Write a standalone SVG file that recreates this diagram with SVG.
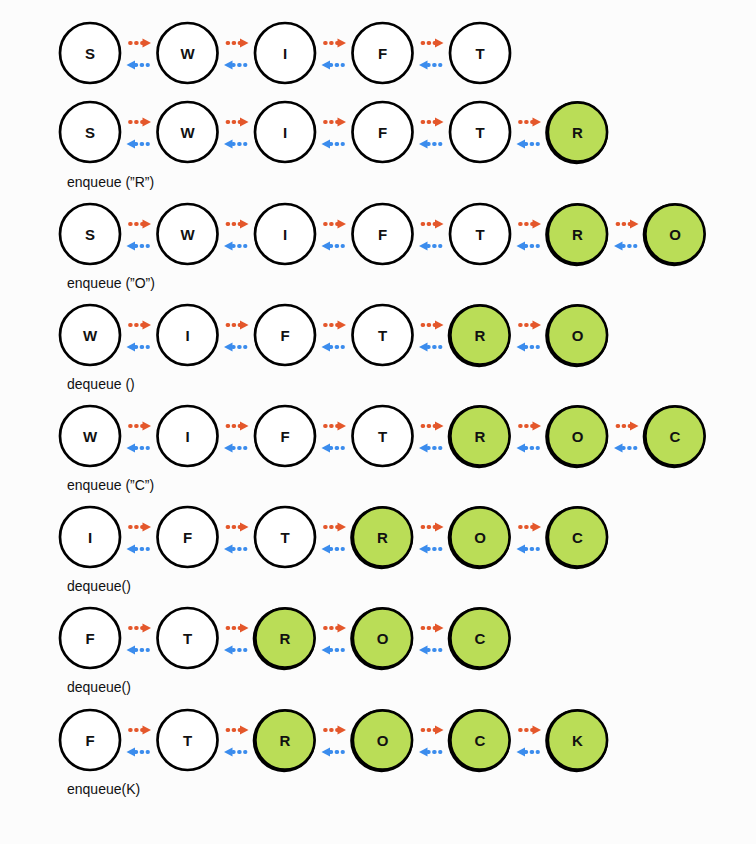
<svg xmlns="http://www.w3.org/2000/svg" xmlns:xlink="http://www.w3.org/1999/xlink" width="756" height="844" viewBox="0 0 756 844">
<style>
.w{fill:#ffffff;stroke:#000;stroke-width:2.7}
.gs{fill:#000}
.g{fill:#badd57;stroke:#000;stroke-width:2.6}
.t{font-family:"Liberation Sans",Arial,sans-serif;font-size:15px;font-weight:bold;text-anchor:middle;fill:#111}
.lbl{font-family:"Liberation Sans",Arial,sans-serif;font-size:14px;fill:#111}
.od{stroke:#e4572b;stroke-width:3.8;stroke-dasharray:0.8 5.2;stroke-linecap:round;fill:none}
.bd{stroke:#3b8ced;stroke-width:3.8;stroke-dasharray:0.8 5.2;stroke-linecap:round;fill:none}
.oh{fill:#e4572b}
.bh{fill:#3b8ced}
</style>
<defs>
<g id="pair">
<line class="od" x1="40" y1="-10" x2="53" y2="-10"/>
<polygon class="oh" points="52.5,-14.5 61,-10 52.5,-5.5"/>
<line class="bd" x1="45.5" y1="12" x2="58" y2="12"/>
<polygon class="bh" points="45,7.5 36.5,12 45,16.5"/>
</g>
<g id="wc"><circle class="w" r="30"/></g>
<g id="gc"><circle class="gs" cx="-0.9" cy="0.8" r="31.4"/><circle class="g" r="29.6"/></g>
</defs>
<rect width="756" height="844" fill="#fcfcfc"/>

<g id="connectors">
<use xlink:href="#pair" x="90" y="53"/><use xlink:href="#pair" x="187.5" y="53"/><use xlink:href="#pair" x="285" y="53"/><use xlink:href="#pair" x="382.5" y="53"/>
<use xlink:href="#pair" x="90" y="132"/><use xlink:href="#pair" x="187.5" y="132"/><use xlink:href="#pair" x="285" y="132"/><use xlink:href="#pair" x="382.5" y="132"/><use xlink:href="#pair" x="480" y="132"/>
<use xlink:href="#pair" x="90" y="234"/><use xlink:href="#pair" x="187.5" y="234"/><use xlink:href="#pair" x="285" y="234"/><use xlink:href="#pair" x="382.5" y="234"/><use xlink:href="#pair" x="480" y="234"/><use xlink:href="#pair" x="577.5" y="234"/>
<use xlink:href="#pair" x="90" y="335"/><use xlink:href="#pair" x="187.5" y="335"/><use xlink:href="#pair" x="285" y="335"/><use xlink:href="#pair" x="382.5" y="335"/><use xlink:href="#pair" x="480" y="335"/>
<use xlink:href="#pair" x="90" y="436"/><use xlink:href="#pair" x="187.5" y="436"/><use xlink:href="#pair" x="285" y="436"/><use xlink:href="#pair" x="382.5" y="436"/><use xlink:href="#pair" x="480" y="436"/><use xlink:href="#pair" x="577.5" y="436"/>
<use xlink:href="#pair" x="90" y="537"/><use xlink:href="#pair" x="187.5" y="537"/><use xlink:href="#pair" x="285" y="537"/><use xlink:href="#pair" x="382.5" y="537"/><use xlink:href="#pair" x="480" y="537"/>
<use xlink:href="#pair" x="90" y="638"/><use xlink:href="#pair" x="187.5" y="638"/><use xlink:href="#pair" x="285" y="638"/><use xlink:href="#pair" x="382.5" y="638"/>
<use xlink:href="#pair" x="90" y="740"/><use xlink:href="#pair" x="187.5" y="740"/><use xlink:href="#pair" x="285" y="740"/><use xlink:href="#pair" x="382.5" y="740"/><use xlink:href="#pair" x="480" y="740"/>
</g>

<g id="r1-S" transform="translate(90,53)"><use xlink:href="#wc"/><text class="t" y="5.5">S</text></g>
<g id="r1-W" transform="translate(187.5,53)"><use xlink:href="#wc"/><text class="t" y="5.5">W</text></g>
<g id="r1-I" transform="translate(285,53)"><use xlink:href="#wc"/><text class="t" y="5.5">I</text></g>
<g id="r1-F" transform="translate(382.5,53)"><use xlink:href="#wc"/><text class="t" y="5.5">F</text></g>
<g id="r1-T" transform="translate(480,53)"><use xlink:href="#wc"/><text class="t" y="5.5">T</text></g>

<g id="r2-S" transform="translate(90,132)"><use xlink:href="#wc"/><text class="t" y="5.5">S</text></g>
<g id="r2-W" transform="translate(187.5,132)"><use xlink:href="#wc"/><text class="t" y="5.5">W</text></g>
<g id="r2-I" transform="translate(285,132)"><use xlink:href="#wc"/><text class="t" y="5.5">I</text></g>
<g id="r2-F" transform="translate(382.5,132)"><use xlink:href="#wc"/><text class="t" y="5.5">F</text></g>
<g id="r2-T" transform="translate(480,132)"><use xlink:href="#wc"/><text class="t" y="5.5">T</text></g>
<g id="r2-R" transform="translate(577.5,132)"><use xlink:href="#gc"/><text class="t" y="5.5">R</text></g>
<text class="lbl" x="67" y="187">enqueue (”R”)</text>

<g id="r3-S" transform="translate(90,234)"><use xlink:href="#wc"/><text class="t" y="5.5">S</text></g>
<g id="r3-W" transform="translate(187.5,234)"><use xlink:href="#wc"/><text class="t" y="5.5">W</text></g>
<g id="r3-I" transform="translate(285,234)"><use xlink:href="#wc"/><text class="t" y="5.5">I</text></g>
<g id="r3-F" transform="translate(382.5,234)"><use xlink:href="#wc"/><text class="t" y="5.5">F</text></g>
<g id="r3-T" transform="translate(480,234)"><use xlink:href="#wc"/><text class="t" y="5.5">T</text></g>
<g id="r3-R" transform="translate(577.5,234)"><use xlink:href="#gc"/><text class="t" y="5.5">R</text></g>
<g id="r3-O" transform="translate(675,234)"><use xlink:href="#gc"/><text class="t" y="5.5">O</text></g>
<text class="lbl" x="67" y="288">enqueue (”O”)</text>

<g id="r4-W" transform="translate(90,335)"><use xlink:href="#wc"/><text class="t" y="5.5">W</text></g>
<g id="r4-I" transform="translate(187.5,335)"><use xlink:href="#wc"/><text class="t" y="5.5">I</text></g>
<g id="r4-F" transform="translate(285,335)"><use xlink:href="#wc"/><text class="t" y="5.5">F</text></g>
<g id="r4-T" transform="translate(382.5,335)"><use xlink:href="#wc"/><text class="t" y="5.5">T</text></g>
<g id="r4-R" transform="translate(480,335)"><use xlink:href="#gc"/><text class="t" y="5.5">R</text></g>
<g id="r4-O" transform="translate(577.5,335)"><use xlink:href="#gc"/><text class="t" y="5.5">O</text></g>
<text class="lbl" x="67" y="389">dequeue ()</text>

<g id="r5-W" transform="translate(90,436)"><use xlink:href="#wc"/><text class="t" y="5.5">W</text></g>
<g id="r5-I" transform="translate(187.5,436)"><use xlink:href="#wc"/><text class="t" y="5.5">I</text></g>
<g id="r5-F" transform="translate(285,436)"><use xlink:href="#wc"/><text class="t" y="5.5">F</text></g>
<g id="r5-T" transform="translate(382.5,436)"><use xlink:href="#wc"/><text class="t" y="5.5">T</text></g>
<g id="r5-R" transform="translate(480,436)"><use xlink:href="#gc"/><text class="t" y="5.5">R</text></g>
<g id="r5-O" transform="translate(577.5,436)"><use xlink:href="#gc"/><text class="t" y="5.5">O</text></g>
<g id="r5-C" transform="translate(675,436)"><use xlink:href="#gc"/><text class="t" y="5.5">C</text></g>
<text class="lbl" x="67" y="490">enqueue (”C”)</text>

<g id="r6-I" transform="translate(90,537)"><use xlink:href="#wc"/><text class="t" y="5.5">I</text></g>
<g id="r6-F" transform="translate(187.5,537)"><use xlink:href="#wc"/><text class="t" y="5.5">F</text></g>
<g id="r6-T" transform="translate(285,537)"><use xlink:href="#wc"/><text class="t" y="5.5">T</text></g>
<g id="r6-R" transform="translate(382.5,537)"><use xlink:href="#gc"/><text class="t" y="5.5">R</text></g>
<g id="r6-O" transform="translate(480,537)"><use xlink:href="#gc"/><text class="t" y="5.5">O</text></g>
<g id="r6-C" transform="translate(577.5,537)"><use xlink:href="#gc"/><text class="t" y="5.5">C</text></g>
<text class="lbl" x="67" y="591">dequeue()</text>

<g id="r7-F" transform="translate(90,638)"><use xlink:href="#wc"/><text class="t" y="5.5">F</text></g>
<g id="r7-T" transform="translate(187.5,638)"><use xlink:href="#wc"/><text class="t" y="5.5">T</text></g>
<g id="r7-R" transform="translate(285,638)"><use xlink:href="#gc"/><text class="t" y="5.5">R</text></g>
<g id="r7-O" transform="translate(382.5,638)"><use xlink:href="#gc"/><text class="t" y="5.5">O</text></g>
<g id="r7-C" transform="translate(480,638)"><use xlink:href="#gc"/><text class="t" y="5.5">C</text></g>
<text class="lbl" x="67" y="692">dequeue()</text>

<g id="r8-F" transform="translate(90,740)"><use xlink:href="#wc"/><text class="t" y="5.5">F</text></g>
<g id="r8-T" transform="translate(187.5,740)"><use xlink:href="#wc"/><text class="t" y="5.5">T</text></g>
<g id="r8-R" transform="translate(285,740)"><use xlink:href="#gc"/><text class="t" y="5.5">R</text></g>
<g id="r8-O" transform="translate(382.5,740)"><use xlink:href="#gc"/><text class="t" y="5.5">O</text></g>
<g id="r8-C" transform="translate(480,740)"><use xlink:href="#gc"/><text class="t" y="5.5">C</text></g>
<g id="r8-K" transform="translate(577.5,740)"><use xlink:href="#gc"/><text class="t" y="5.5">K</text></g>
<text class="lbl" x="67" y="794">enqueue(K)</text>
</svg>
